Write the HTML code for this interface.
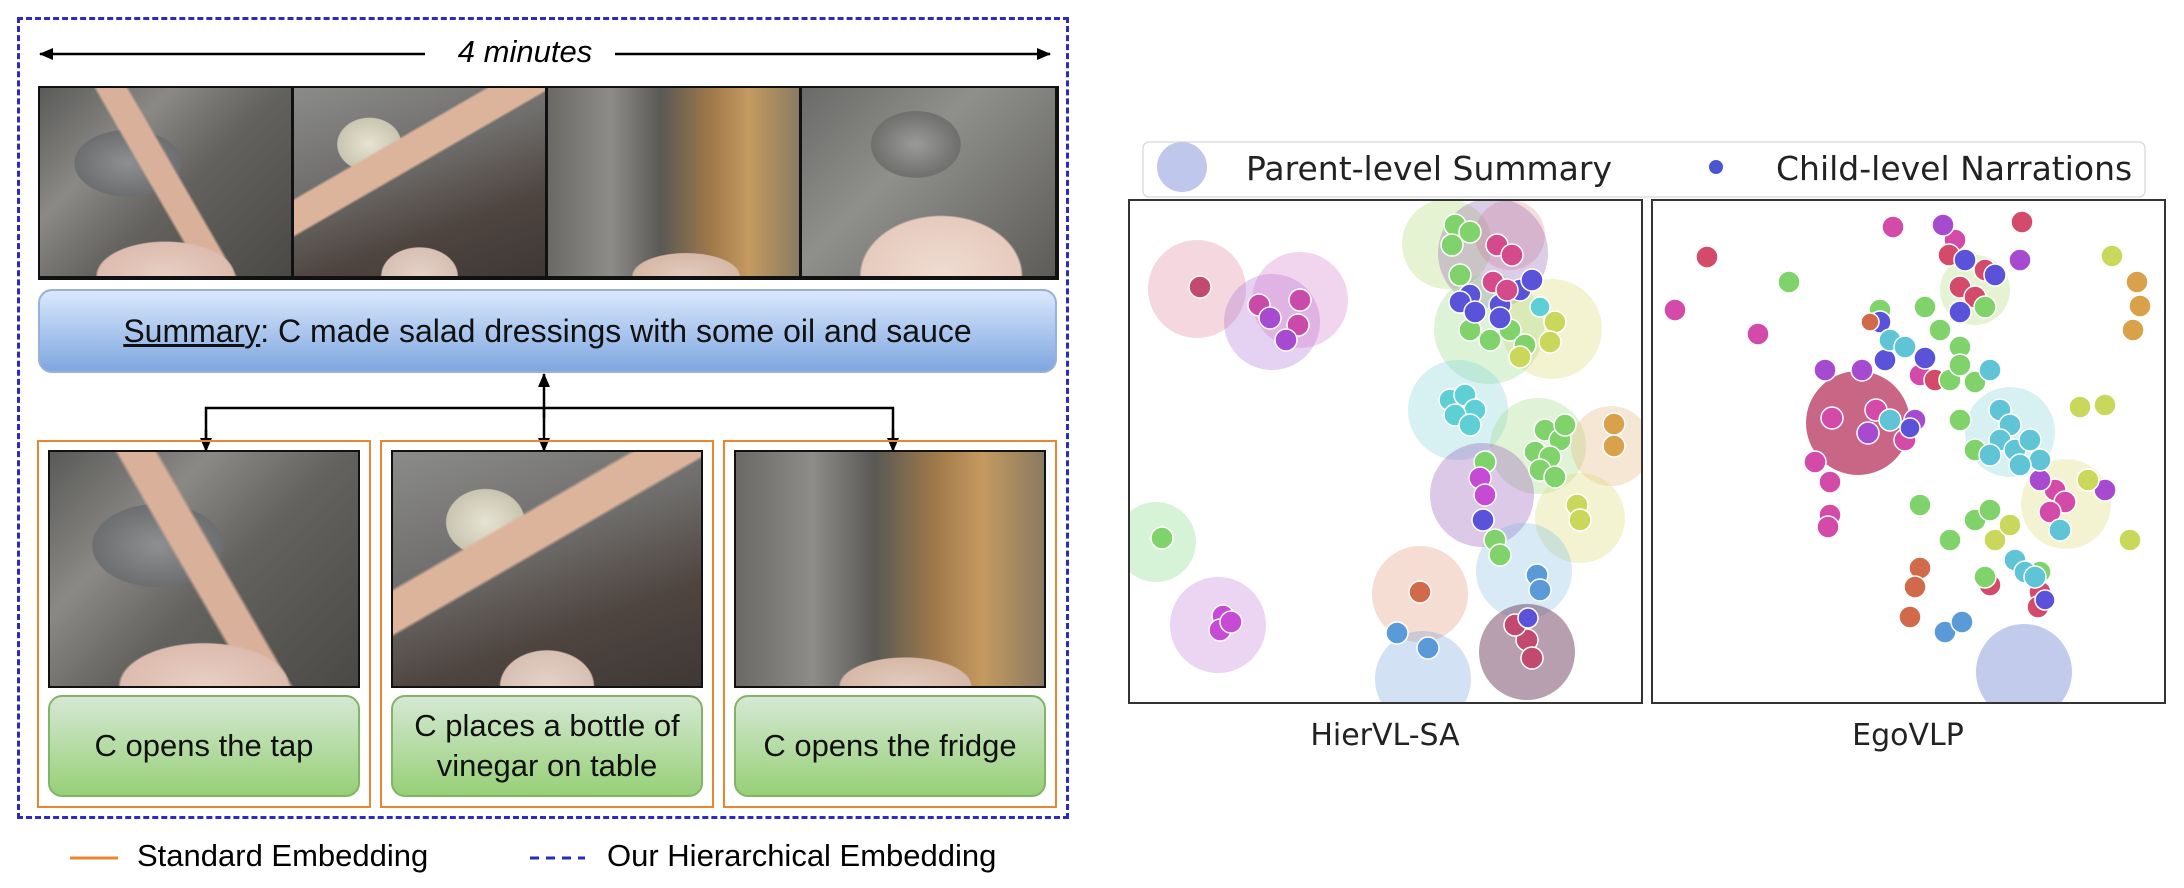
<!DOCTYPE html>
<html><head><meta charset="utf-8"><style>
body{margin:0;width:2184px;height:888px;background:#fff;position:relative;overflow:hidden;font-family:"Liberation Sans",sans-serif;}
.a{position:absolute;}
.ph{position:absolute;background:
 radial-gradient(ellipse 45% 30% at 50% 100%, #e9cfc4 0%, #dcbcae 60%, rgba(220,188,174,0) 62%),
 linear-gradient(60deg, rgba(0,0,0,0) 45%, #d9b19a 46%, #d9b19a 54%, rgba(0,0,0,0) 55%),
 radial-gradient(ellipse 30% 25% at 35% 40%, #8e8f90 0%, #6d6e70 70%, rgba(0,0,0,0) 72%),
 linear-gradient(135deg,#5a5a58 0%,#8a8986 30%,#63625e 55%,#4a4946 100%);}
.p2{background:
 radial-gradient(ellipse 25% 25% at 50% 100%, #e6d2c8 0%, #d7bfb3 60%, rgba(0,0,0,0) 62%),
 linear-gradient(-30deg, rgba(0,0,0,0) 55%, #dcb49c 56%, #dcb49c 66%, rgba(0,0,0,0) 67%),
 radial-gradient(ellipse 18% 20% at 30% 30%, #e7e3d3 0%, #c8c5b0 70%, rgba(0,0,0,0) 72%),
 linear-gradient(160deg,#8b8b8a 0%,#6f6e6c 40%,#4f4540 70%,#3e3835 100%);}
.p3{background:
 radial-gradient(ellipse 35% 20% at 55% 100%, #e3cbbd 0%, #d6b8a7 60%, rgba(0,0,0,0) 62%),
 linear-gradient(90deg,#6a6966 0%,#8d8c88 25%,#5a5955 45%,#a0794a 65%,#c49a60 80%,#8a7a62 100%);}
.p4{background:
 radial-gradient(ellipse 45% 45% at 55% 100%, #f0dcd2 0%, #e6cbbd 70%, rgba(0,0,0,0) 72%),
 radial-gradient(ellipse 25% 25% at 45% 30%, #9a9a98 0%, #6f6f6e 70%, rgba(0,0,0,0) 72%),
 linear-gradient(135deg,#6a6a68 0%,#8f8f8c 40%,#5d5c59 100%);}
.gb{position:absolute;border:2px solid #82b366;border-radius:14px;background:linear-gradient(#d5e8d4,#97d077);display:flex;align-items:center;justify-content:center;text-align:center;font-size:31px;line-height:40px;color:#111;}
.ob{position:absolute;border:2px solid #e8872f;}
</style></head><body>
<div class="a" style="left:17px;top:17px;width:1046px;height:796px;border:3px dashed #2b2bc0;"></div>
<svg class="a" style="left:0;top:0" width="1100" height="888">
 <defs><marker id="ar" markerUnits="userSpaceOnUse" markerWidth="14" markerHeight="14" refX="13" refY="7" orient="auto"><path d="M0,1 L14,7 L0,13 z" fill="#000"/></marker></defs>
 <line x1="425" y1="54" x2="40" y2="54" stroke="#000" stroke-width="2.5" marker-end="url(#ar)"/>
 <line x1="615" y1="54" x2="1050" y2="54" stroke="#000" stroke-width="2.5" marker-end="url(#ar)"/>
 <line x1="544" y1="418" x2="544" y2="374" stroke="#000" stroke-width="2.5" marker-end="url(#ar)"/>
 <line x1="544" y1="408" x2="544" y2="451" stroke="#000" stroke-width="2.5" marker-end="url(#ar)"/>
 <polyline points="206,440 206,408 893,408 893,440" fill="none" stroke="#000" stroke-width="2.5"/>
 <line x1="206" y1="430" x2="206" y2="451" stroke="#000" stroke-width="2.5" marker-end="url(#ar)"/>
 <line x1="893" y1="430" x2="893" y2="451" stroke="#000" stroke-width="2.5" marker-end="url(#ar)"/>
 <line x1="70" y1="858" x2="118" y2="858" stroke="#e8872f" stroke-width="3"/>
 <line x1="530" y1="858" x2="585" y2="858" stroke="#2b2bc0" stroke-width="3" stroke-dasharray="9,7"/>
</svg>
<div class="a" style="left:440px;top:34px;width:170px;text-align:center;font-size:31px;font-style:italic;">4 minutes</div>
<div class="a" style="left:38px;top:86px;width:1017px;height:190px;background:#111;border:2px solid #111;"></div>
<div class="ph" style="left:40px;top:88px;width:251px;height:188px;"></div>
<div class="ph p2" style="left:294px;top:88px;width:251px;height:188px;"></div>
<div class="ph p3" style="left:548px;top:88px;width:251px;height:188px;"></div>
<div class="ph p4" style="left:802px;top:88px;width:253px;height:188px;"></div>
<div class="a" style="left:38px;top:289px;width:1015px;height:80px;border:2px solid #9ab0d8;border-radius:14px;background:linear-gradient(#dae8fc,#7ea6e0);display:flex;align-items:center;justify-content:center;font-size:32px;color:#111;"><span><u>Summary</u>: C made salad dressings with some oil and sauce</span></div>
<div class="ob" style="left:37px;top:440px;width:330px;height:364px;"></div>
<div class="ob" style="left:380px;top:440px;width:330px;height:364px;"></div>
<div class="ob" style="left:723px;top:440px;width:330px;height:364px;"></div>
<div class="ph" style="left:48px;top:450px;width:308px;height:234px;border:2px solid #111;"></div>
<div class="ph p2" style="left:391px;top:450px;width:308px;height:234px;border:2px solid #111;"></div>
<div class="ph p3" style="left:734px;top:450px;width:308px;height:234px;border:2px solid #111;"></div>
<div class="gb" style="left:48px;top:695px;width:308px;height:98px;">C opens the tap</div>
<div class="gb" style="left:391px;top:695px;width:308px;height:98px;">C places a bottle of<br>vinegar on table</div>
<div class="gb" style="left:734px;top:695px;width:308px;height:98px;">C opens the fridge</div>
<div class="a" style="left:137px;top:838px;font-size:31px;">Standard Embedding</div>
<div class="a" style="left:607px;top:838px;font-size:31px;">Our Hierarchical Embedding</div>

<svg class="a" style="left:1100px;top:100px" width="1084" height="700" viewBox="1100 100 1084 700">
 <defs>
  <clipPath id="c1"><rect x="1129" y="200" width="513" height="503"/></clipPath>
  <clipPath id="c2"><rect x="1652" y="200" width="513" height="503"/></clipPath>
 </defs>
 <rect x="1143" y="142" width="1002" height="55" rx="6" fill="#fff" stroke="#ddd" stroke-width="1.5"/>
 <circle cx="1182" cy="167" r="25" fill="#b8c2ea" opacity="0.9"/>
 <circle cx="1716" cy="167" r="7" fill="#4a55d0"/>
 <text x="1246" y="180" font-size="33" font-family="DejaVu Sans,sans-serif" fill="#222">Parent-level Summary</text>
 <text x="1776" y="180" font-size="33" font-family="DejaVu Sans,sans-serif" fill="#222">Child-level Narrations</text>
 <g clip-path="url(#c1)" fill-opacity="0.3">
  <circle cx="1197" cy="289" r="49" fill="#d97a95"/>
  <circle cx="1272" cy="322" r="48" fill="#a96ad6"/>
  <circle cx="1300" cy="300" r="48" fill="#d070c8"/>
  <circle cx="1447" cy="244" r="45" fill="#a8d66a"/>
  <circle cx="1510" cy="235" r="35" fill="#e08a8a"/>
  <circle cx="1493" cy="253" r="55" fill="#8a5ab0"/>
  <circle cx="1489" cy="329" r="55" fill="#8ad67a"/>
  <circle cx="1552" cy="329" r="50" fill="#d6d66a"/>
  <circle cx="1458" cy="410" r="50" fill="#7acfd6"/>
  <circle cx="1538" cy="446" r="48" fill="#9ad67a"/>
  <circle cx="1611" cy="446" r="40" fill="#e0b070"/>
  <circle cx="1482" cy="495" r="52" fill="#8a4ab0"/>
  <circle cx="1580" cy="518" r="45" fill="#d6d66a"/>
  <circle cx="1156" cy="542" r="40" fill="#7ad67a"/>
  <circle cx="1218" cy="625" r="48" fill="#c070d6"/>
  <circle cx="1420" cy="594" r="48" fill="#e09070"/>
  <circle cx="1524" cy="571" r="48" fill="#7ab8e0"/>
  <circle cx="1423" cy="679" r="48" fill="#6a9ad6"/>
  <circle cx="1527" cy="652" r="48" fill="#704060" fill-opacity="0.5"/>
 </g>
 <g clip-path="url(#c1)" stroke="#fff" stroke-width="1.5">
  <g fill="#c24a6e"><circle cx="1200" cy="287" r="11"/><circle cx="1527" cy="640" r="11"/><circle cx="1532" cy="658" r="11"/><circle cx="1515" cy="625" r="11"/></g>
  <g fill="#c94aa8"><circle cx="1259" cy="305" r="11"/><circle cx="1300" cy="300" r="11"/><circle cx="1298" cy="325" r="11"/></g>
  <g fill="#a64ad0"><circle cx="1270" cy="318" r="11"/><circle cx="1286" cy="340" r="11"/></g>
  <g fill="#7fd36a"><circle cx="1455" cy="225" r="11"/><circle cx="1470" cy="232" r="11"/><circle cx="1452" cy="245" r="11"/><circle cx="1460" cy="275" r="11"/><circle cx="1470" cy="330" r="11"/><circle cx="1490" cy="340" r="11"/><circle cx="1510" cy="330" r="11"/><circle cx="1525" cy="345" r="11"/>
   <circle cx="1545" cy="430" r="11"/><circle cx="1560" cy="440" r="11"/><circle cx="1535" cy="452" r="11"/><circle cx="1550" cy="457" r="11"/><circle cx="1565" cy="425" r="11"/><circle cx="1540" cy="470" r="11"/><circle cx="1555" cy="477" r="11"/>
   <circle cx="1485" cy="462" r="11"/><circle cx="1495" cy="540" r="11"/><circle cx="1500" cy="555" r="11"/><circle cx="1162" cy="538" r="11"/></g>
  <g fill="#5a52d8"><circle cx="1470" cy="295" r="11"/><circle cx="1520" cy="290" r="11"/><circle cx="1532" cy="280" r="11"/><circle cx="1460" cy="302" r="11"/><circle cx="1500" cy="305" r="11"/><circle cx="1475" cy="312" r="11"/><circle cx="1500" cy="318" r="11"/><circle cx="1483" cy="520" r="11"/><circle cx="1528" cy="618" r="10"/></g>
  <g fill="#d44a8a"><circle cx="1497" cy="245" r="11"/><circle cx="1512" cy="255" r="11"/><circle cx="1493" cy="282" r="11"/><circle cx="1507" cy="290" r="11"/></g>
  <g fill="#c9d85a"><circle cx="1555" cy="322" r="11"/><circle cx="1520" cy="357" r="11"/><circle cx="1550" cy="342" r="11"/><circle cx="1577" cy="505" r="11"/><circle cx="1580" cy="520" r="11"/></g>
  <g fill="#5fcfd6"><circle cx="1450" cy="400" r="11"/><circle cx="1465" cy="395" r="11"/><circle cx="1475" cy="410" r="11"/><circle cx="1455" cy="415" r="11"/><circle cx="1470" cy="425" r="11"/><circle cx="1540" cy="307" r="10"/></g>
  <g fill="#d9a24a"><circle cx="1614" cy="424" r="11"/><circle cx="1614" cy="446" r="11"/></g>
  <g fill="#c64ad4"><circle cx="1480" cy="478" r="11"/><circle cx="1485" cy="495" r="11"/><circle cx="1223" cy="616" r="11"/><circle cx="1220" cy="630" r="11"/><circle cx="1231" cy="622" r="11"/></g>
  <circle cx="1420" cy="592" r="11" fill="#d06a4a"/>
  <g fill="#5a9ad8"><circle cx="1397" cy="633" r="11"/><circle cx="1428" cy="648" r="11"/><circle cx="1537" cy="575" r="11"/><circle cx="1540" cy="590" r="11"/></g>
 </g>
 <g clip-path="url(#c2)" fill-opacity="0.3">
  <circle cx="1858" cy="423" r="52" fill="#c04a70" fill-opacity="0.85"/>
  <circle cx="2010" cy="432" r="45" fill="#7acfd6"/>
  <circle cx="2066" cy="504" r="45" fill="#d6d66a"/>
  <circle cx="2024" cy="672" r="48" fill="#9aa8e0" fill-opacity="0.6"/>
  <circle cx="1975" cy="290" r="35" fill="#a8d66a"/>
 </g>
 <g clip-path="url(#c2)" stroke="#fff" stroke-width="1.5">
  <g fill="#d44aa8"><circle cx="1893" cy="227" r="11"/><circle cx="1955" cy="240" r="11"/><circle cx="1675" cy="310" r="11"/><circle cx="1758" cy="334" r="11"/><circle cx="1876" cy="410" r="11"/><circle cx="1905" cy="440" r="11"/><circle cx="1832" cy="418" r="11"/><circle cx="1815" cy="462" r="11"/><circle cx="1830" cy="482" r="11"/><circle cx="1830" cy="515" r="11"/><circle cx="1828" cy="527" r="11"/><circle cx="1920" cy="375" r="11"/><circle cx="2055" cy="490" r="11"/><circle cx="2065" cy="502" r="11"/><circle cx="2050" cy="512" r="11"/></g>
  <g fill="#a64ad0"><circle cx="1943" cy="225" r="11"/><circle cx="2020" cy="260" r="11"/><circle cx="1825" cy="370" r="11"/><circle cx="1862" cy="370" r="11"/><circle cx="1915" cy="420" r="11"/><circle cx="1868" cy="433" r="11"/><circle cx="2040" cy="480" r="11"/><circle cx="2105" cy="490" r="11"/></g>
  <g fill="#d44a6a"><circle cx="1949" cy="255" r="11"/><circle cx="2022" cy="222" r="11"/><circle cx="1707" cy="257" r="11"/><circle cx="1985" cy="270" r="11"/><circle cx="1960" cy="287" r="11"/><circle cx="1975" cy="297" r="11"/><circle cx="1935" cy="380" r="11"/><circle cx="2040" cy="592" r="11"/><circle cx="2038" cy="607" r="11"/><circle cx="1990" cy="585" r="11"/></g>
  <g fill="#7fd36a"><circle cx="1789" cy="282" r="11"/><circle cx="1880" cy="310" r="11"/><circle cx="1985" cy="307" r="11"/><circle cx="1940" cy="330" r="11"/><circle cx="1925" cy="307" r="11"/><circle cx="1960" cy="347" r="11"/><circle cx="1950" cy="380" r="11"/><circle cx="1960" cy="365" r="11"/><circle cx="1975" cy="382" r="11"/><circle cx="1975" cy="450" r="11"/><circle cx="1920" cy="505" r="11"/><circle cx="1950" cy="540" r="11"/><circle cx="1975" cy="520" r="11"/><circle cx="1990" cy="510" r="11"/><circle cx="1985" cy="577" r="11"/><circle cx="2040" cy="572" r="11"/><circle cx="1960" cy="420" r="11"/></g>
  <g fill="#5a52d8"><circle cx="1965" cy="260" r="11"/><circle cx="1960" cy="312" r="11"/><circle cx="1995" cy="275" r="11"/><circle cx="1880" cy="322" r="11"/><circle cx="1925" cy="358" r="11"/><circle cx="1885" cy="360" r="11"/><circle cx="1910" cy="428" r="10"/><circle cx="2045" cy="600" r="10"/></g>
  <g fill="#5fc4d6"><circle cx="1890" cy="340" r="11"/><circle cx="1905" cy="347" r="11"/><circle cx="1990" cy="370" r="11"/><circle cx="1890" cy="420" r="11"/><circle cx="2000" cy="410" r="11"/><circle cx="2010" cy="425" r="11"/><circle cx="2000" cy="440" r="11"/><circle cx="2015" cy="450" r="11"/><circle cx="1990" cy="455" r="11"/><circle cx="2030" cy="440" r="11"/><circle cx="2040" cy="460" r="11"/><circle cx="2020" cy="465" r="11"/><circle cx="2015" cy="560" r="11"/><circle cx="2025" cy="572" r="11"/><circle cx="2035" cy="577" r="11"/><circle cx="2060" cy="530" r="11"/></g>
  <g fill="#c9d85a"><circle cx="2112" cy="256" r="11"/><circle cx="2080" cy="407" r="11"/><circle cx="2105" cy="405" r="11"/><circle cx="2088" cy="480" r="11"/><circle cx="1995" cy="540" r="11"/><circle cx="2010" cy="525" r="11"/><circle cx="2130" cy="540" r="11"/></g>
  <g fill="#d9a24a"><circle cx="2137" cy="282" r="11"/><circle cx="2140" cy="306" r="11"/><circle cx="2133" cy="330" r="11"/></g>
  <g fill="#d06a4a"><circle cx="1870" cy="322" r="9"/><circle cx="1920" cy="568" r="11"/><circle cx="1915" cy="587" r="11"/><circle cx="1910" cy="617" r="11"/></g>
  <g fill="#5a9ad8"><circle cx="1945" cy="632" r="11"/><circle cx="1962" cy="622" r="11"/></g>
 </g>
 <rect x="1129" y="200" width="513" height="503" fill="none" stroke="#333" stroke-width="2"/>
 <rect x="1652" y="200" width="513" height="503" fill="none" stroke="#333" stroke-width="2"/>
 <text x="1385" y="745" font-size="30" font-family="DejaVu Sans,sans-serif" text-anchor="middle" fill="#222">HierVL-SA</text>
 <text x="1908" y="745" font-size="30" font-family="DejaVu Sans,sans-serif" text-anchor="middle" fill="#222">EgoVLP</text>
</svg>
</body></html>
